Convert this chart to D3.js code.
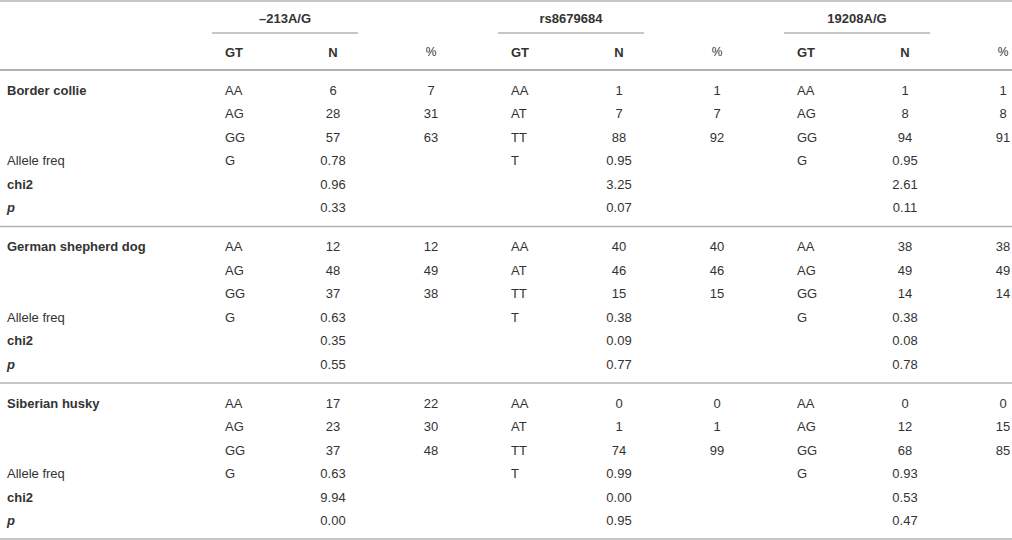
<!DOCTYPE html>
<html>
<head>
<meta charset="utf-8">
<script src="https://cdn.jsdelivr.net/npm/d3@7"></script>
<style>
  body { margin: 0; background: #fff; }
  svg text { font-family: "Liberation Sans", Arial, sans-serif; font-size: 13px; fill: #333; }
</style>
</head>
<body>
<div class="table-wrapper"></div>
<script>
const breeds = ["Border collie", "German shepherd dog", "Siberian husky"];
const snps = ["\u2013213A/G", "rs8679684", "19208A/G"];
const subHeads = ["GT", "N", "%"];
const genotypes = [["AA", "AG", "GG"], ["AA", "AT", "TT"], ["AA", "AG", "GG"]];
const alleles = ["G", "T", "G"];
const statLabels = ["Allele freq", "chi2", "p"];

// [breed][snp][genotype]
const counts = [
  [[6, 28, 57], [1, 7, 88], [1, 8, 94]],
  [[12, 48, 37], [40, 46, 15], [38, 49, 14]],
  [[17, 23, 37], [0, 1, 74], [0, 12, 68]]
];
const percents = [
  [[7, 31, 63], [1, 7, 92], [1, 8, 91]],
  [[12, 49, 38], [40, 46, 15], [38, 49, 14]],
  [[22, 30, 48], [0, 1, 99], [0, 15, 85]]
];
// [breed][snp]
const alleleFreq = [[0.78, 0.95, 0.95], [0.63, 0.38, 0.38], [0.63, 0.99, 0.93]];
const chi2 = [[0.96, 3.25, 2.61], [0.35, 0.09, 0.08], [9.94, 0.00, 0.53]];
const pValues = [[0.33, 0.07, 0.11], [0.55, 0.77, 0.78], [0.00, 0.95, 0.47]];

let width = 1012, height = 540;

let svg = d3.select('.table-wrapper').append('svg')
  .attr('width', width)
  .attr('height', height);

let lineColor = '#b3b3b3';
let fmt = d3.format('.2f');

// snp group columns
let groupX = d3.scaleBand().domain(snps).range([212, 212 + 3 * 286]);
let colX = d3.scaleOrdinal().domain(subHeads).range([13, 121, 219]);

// sections and rows
let sectionY = d3.scaleBand().domain(breeds).range([70, 539.5]);
let rowY = d3.scaleLinear().domain([0, 5]).range([20, 137.5]);

const hline = (x1, x2, y, w) => {
  svg.append('line')
    .attr('x1', x1).attr('x2', x2)
    .attr('y1', y).attr('y2', y)
    .attr('stroke', lineColor)
    .attr('stroke-width', w);
}

hline(0, width, 1, 1.5);
hline(0, width, 70, 2);
breeds.slice(1).forEach(b => hline(0, width, sectionY(b), 1.5));
hline(0, width, 539, 1.5);

snps.forEach((s, j) => {
  let gx = groupX(s);
  svg.append('text')
    .attr('x', gx + 73).attr('y', 18).attr('dy', '0.35em')
    .attr('text-anchor', 'middle')
    .style('font-weight', 'bold')
    .text(s);
  hline(gx, gx + 146, 33, 1.5);

  subHeads.forEach(h => {
    svg.append('text')
      .attr('x', gx + colX(h)).attr('y', 52).attr('dy', '0.35em')
      .attr('text-anchor', h == 'GT' ? 'start' : 'middle')
      .style('font-weight', h == '%' ? 'normal' : 'bold')
      .style('font-size', h == '%' ? '12px' : '13px')
      .text(h);
  });
});

breeds.forEach((b, i) => {
  let top = sectionY(b);

  svg.append('text')
    .attr('x', 7).attr('y', top + rowY(0)).attr('dy', '0.35em')
    .style('font-weight', 'bold')
    .text(b);

  statLabels.forEach((l, k) => {
    svg.append('text')
      .attr('x', 7).attr('y', top + rowY(3 + k)).attr('dy', '0.35em')
      .style('font-weight', k == 0 ? 'normal' : 'bold')
      .style('font-style', l == 'p' ? 'italic' : 'normal')
      .text(l);
  });

  snps.forEach((s, j) => {
    let gx = groupX(s);

    genotypes[j].forEach((g, r) => {
      let y = top + rowY(r);
      svg.append('text')
        .attr('x', gx + colX('GT')).attr('y', y).attr('dy', '0.35em')
        .text(g);
      svg.append('text')
        .attr('x', gx + colX('N')).attr('y', y).attr('dy', '0.35em')
        .attr('text-anchor', 'middle')
        .text(counts[i][j][r]);
      svg.append('text')
        .attr('x', gx + colX('%')).attr('y', y).attr('dy', '0.35em')
        .attr('text-anchor', 'middle')
        .text(percents[i][j][r]);
    });

    svg.append('text')
      .attr('x', gx + colX('GT')).attr('y', top + rowY(3)).attr('dy', '0.35em')
      .text(alleles[j]);

    [alleleFreq, chi2, pValues].forEach((arr, k) => {
      svg.append('text')
        .attr('x', gx + colX('N')).attr('y', top + rowY(3 + k)).attr('dy', '0.35em')
        .attr('text-anchor', 'middle')
        .text(fmt(arr[i][j]));
    });
  });
});
</script>
</body>
</html>
